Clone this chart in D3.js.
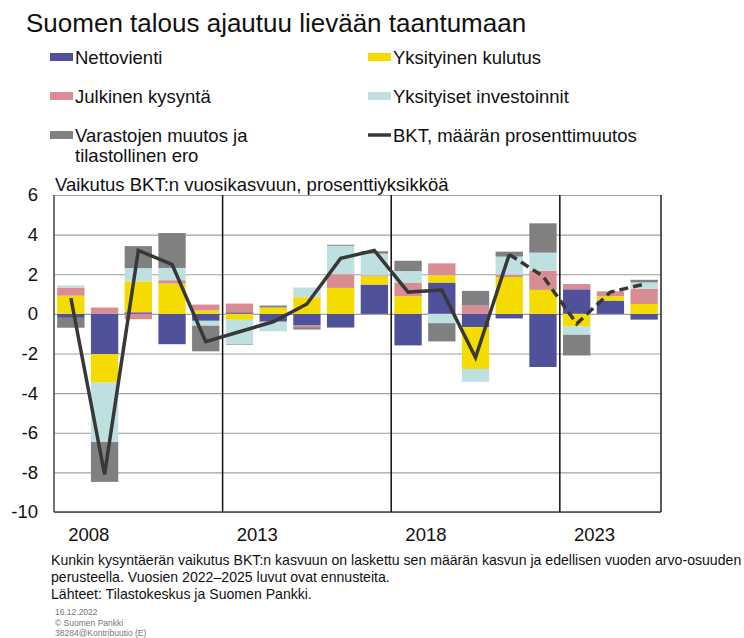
<!DOCTYPE html>
<html>
<head>
<meta charset="utf-8">
<script src="https://cdn.jsdelivr.net/npm/d3@7"></script>
<style>
  body { margin: 0; background: #fff; }
  svg { display: block; font-family: "Liberation Sans", Arial, sans-serif; }
</style>
</head>
<body>
<svg id="chart" width="744" height="638"></svg>
<script>
// data, contribution to GDP growth, percentage points
const years = [2008, 2009, 2010, 2011, 2012, 2013, 2014, 2015, 2016, 2017, 2018, 2019, 2020, 2021, 2022, 2023, 2024, 2025];
const nettovienti = [-0.20, -2.03, 0.08, -1.53, -0.35, 0.08, -0.39, -0.59, -0.69, 1.48, -1.59, 1.58, -0.67, -0.23, -2.68, 1.24, 0.67, -0.29];
const kulutus = [0.92, -1.44, 1.56, 1.53, 0.17, -0.30, 0.32, 0.84, 1.31, 0.42, 0.89, 0.37, -2.11, 1.86, 1.21, -0.64, 0.22, 0.50];
const julkinen = [0.41, 0.32, -0.27, 0.17, 0.30, 0.44, -0.04, -0.08, 0.69, 0.05, 0.67, 0.60, 0.42, 0.12, 0.97, 0.27, 0.25, 0.77];
const investoinnit = [0.11, -3.00, 0.67, 0.62, -0.25, -1.22, -0.45, 0.49, 1.44, 1.09, 0.60, -0.47, -0.65, 0.91, 0.91, -0.42, 0.00, 0.32];
const varastot = [-0.50, -2.01, 1.11, 1.76, -1.29, -0.03, 0.10, -0.12, 0.05, 0.12, 0.52, -0.92, 0.74, 0.25, 1.48, -1.04, 0.00, 0.13];
const bkt = [0.8, -8.1, 3.2, 2.5, -1.4, -0.9, -0.4, 0.5, 2.8, 3.2, 1.1, 1.2, -2.2, 3.0, 1.9, -0.5, 1.1, 1.5];
const lastActualYear = 2021;

const yTicks = [6, 4, 2, 0, -2, -4, -6, -8, -10];
const xTickYears = [2008, 2013, 2018, 2023];
const seriesKeys = ["netto", "kulutus", "julkinen", "investoinnit", "varastot"];
const seriesLabels = ["Nettovienti", "Yksityinen kulutus", "Julkinen kysyntä", "Yksityiset investoinnit", "Varastojen muutos ja|tilastollinen ero"];
const lineLabel = "BKT, määrän prosenttimuutos";

const colors = {
  netto: "#4f529b",
  kulutus: "#f5dc00",
  julkinen: "#d98c92",
  investoinnit: "#bee0e1",
  varastot: "#808080"
};
const lineColor = "#383838";

const plotLeft = 54;
const plotRight = 661;
const plotTop = 195;
const plotBottom = 512;

const svg = d3.select("#chart");

const table = years.map((year, i) => ({
  year: year,
  netto: nettovienti[i],
  kulutus: kulutus[i],
  julkinen: julkinen[i],
  investoinnit: investoinnit[i],
  varastot: varastot[i],
  bkt: bkt[i]
}));

const xScale = d3
  .scaleBand()
  .domain(years)
  .range([plotLeft, plotRight])
  .paddingInner(0.19)
  .paddingOuter(0.095);
const yScale = d3.scaleLinear().domain([-10, 6]).range([plotBottom, plotTop]);
const halfGap = (xScale.step() - xScale.bandwidth()) / 2;

// title
svg.append("text")
  .attr("x", 26).attr("y", 32)
  .attr("font-size", 26)
  .attr("fill", "#111")
  .text("Suomen talous ajautuu lievään taantumaan");

// legend
const legendCols = [50, 368];
const legendRows = [57, 96, 135];
seriesKeys.forEach((key, i) => {
  const col = legendCols[i % 2];
  const row = legendRows[Math.floor(i / 2)];
  svg.append("rect")
    .attr("x", col).attr("y", row - 4)
    .attr("width", 23).attr("height", 8)
    .attr("fill", colors[key]);
  const t = svg.append("text")
    .attr("x", col + 25).attr("y", row + 6.5)
    .attr("font-size", 18.5)
    .attr("fill", "#111");
  seriesLabels[i].split("|").forEach((part, j) => {
    t.append("tspan").attr("x", col + 25).attr("dy", j ? 20 : 0).text(part);
  });
});
svg.append("line")
  .attr("x1", legendCols[1]).attr("x2", legendCols[1] + 23)
  .attr("y1", legendRows[2]).attr("y2", legendRows[2])
  .attr("stroke", lineColor).attr("stroke-width", 3.5);
svg.append("text")
  .attr("x", legendCols[1] + 25).attr("y", legendRows[2] + 6.5)
  .attr("font-size", 18.5).attr("fill", "#111")
  .text(lineLabel);

// subtitle
svg.append("text")
  .attr("x", 55).attr("y", 191)
  .attr("font-size", 18.5).attr("fill", "#111")
  .text("Vaikutus BKT:n vuosikasvuun, prosenttiyksikköä");

// y axis with gridlines
const yAxis = d3
  .axisLeft(yScale)
  .tickValues(yTicks)
  .tickSize(-(plotRight - plotLeft))
  .tickPadding(16)
  .tickFormat(d3.format("d"));
const yAxisG = svg.append("g")
  .attr("transform", `translate(${plotLeft},0)`)
  .call(yAxis);
yAxisG.select(".domain").remove();
yAxisG.selectAll(".tick line")
  .attr("stroke", "#a0a0a0")
  .attr("stroke-width", 1.2);
yAxisG.selectAll(".tick text")
  .attr("font-size", 18.5)
  .attr("fill", "#111")
  .attr("font-family", "Liberation Sans, Arial, sans-serif")
  .text((d) => (d < 0 ? "-" + Math.abs(d) : d));

// stacked bars
const stacked = d3.stack().keys(seriesKeys).offset(d3.stackOffsetDiverging)(table);
svg.append("g")
  .selectAll("g")
  .data(stacked)
  .join("g")
  .attr("fill", (s) => colors[s.key])
  .selectAll("rect")
  .data((s) => s)
  .join("rect")
  .attr("x", (d) => xScale(d.data.year))
  .attr("width", xScale.bandwidth())
  .attr("y", (d) => yScale(Math.max(d[0], d[1])))
  .attr("height", (d) => Math.abs(yScale(d[0]) - yScale(d[1])));

// frame
svg.append("line")
  .attr("x1", plotLeft).attr("x2", plotRight)
  .attr("y1", plotBottom).attr("y2", plotBottom)
  .attr("stroke", "#444").attr("stroke-width", 1.5);
svg.append("line")
  .attr("x1", plotLeft).attr("x2", plotLeft)
  .attr("y1", plotTop).attr("y2", plotBottom)
  .attr("stroke", "#444").attr("stroke-width", 1.5);
svg.append("line")
  .attr("x1", plotRight).attr("x2", plotRight)
  .attr("y1", plotTop).attr("y2", plotBottom)
  .attr("stroke", "#222").attr("stroke-width", 1.5);

// separators every five years
svg.selectAll(".sep")
  .data(xTickYears.slice(1))
  .join("line")
  .attr("class", "sep")
  .attr("x1", (d) => xScale(d) - halfGap)
  .attr("x2", (d) => xScale(d) - halfGap)
  .attr("y1", plotTop)
  .attr("y2", plotBottom)
  .attr("stroke", "#111")
  .attr("stroke-width", 1.5);

// x labels
svg.selectAll(".xlab")
  .data(xTickYears)
  .join("text")
  .attr("class", "xlab")
  .attr("x", (d) => xScale(d + 1) - halfGap + 1)
  .attr("y", 541)
  .attr("text-anchor", "middle")
  .attr("font-size", 18.5)
  .attr("fill", "#111")
  .text((d) => d);

// GDP line, forecast dashed
const gdpLine = d3
  .line()
  .x((d) => xScale(d.year) + xScale.bandwidth() / 2)
  .y((d) => yScale(d.bkt));
svg.append("path")
  .datum(table.filter((d) => d.year <= lastActualYear))
  .attr("d", gdpLine)
  .attr("fill", "none")
  .attr("stroke", lineColor)
  .attr("stroke-width", 3.5);
svg.append("path")
  .datum(table.filter((d) => d.year >= lastActualYear))
  .attr("d", gdpLine)
  .attr("fill", "none")
  .attr("stroke", lineColor)
  .attr("stroke-width", 3.5)
  .attr("stroke-dasharray", "9,5");

// notes
const notes = [
  "Kunkin kysyntäerän vaikutus BKT:n kasvuun on laskettu sen määrän kasvun ja edellisen vuoden arvo-osuuden",
  "perusteella. Vuosien 2022–2025 luvut ovat ennusteita.",
  "Lähteet: Tilastokeskus ja Suomen Pankki."
];
svg.selectAll(".note")
  .data(notes)
  .join("text")
  .attr("class", "note")
  .attr("x", 51)
  .attr("y", (d, i) => 565 + i * 17)
  .attr("font-size", 14.1)
  .attr("fill", "#111")
  .text((d) => d);

const stamp = ["16.12.2022", "© Suomen Pankki", "38284@Kontribuutio (E)"];
svg.selectAll(".stamp")
  .data(stamp)
  .join("text")
  .attr("class", "stamp")
  .attr("x", 55)
  .attr("y", (d, i) => 615 + i * 10.5)
  .attr("font-size", 8.5)
  .attr("fill", "#777")
  .text((d) => d);
</script>
</body>
</html>
